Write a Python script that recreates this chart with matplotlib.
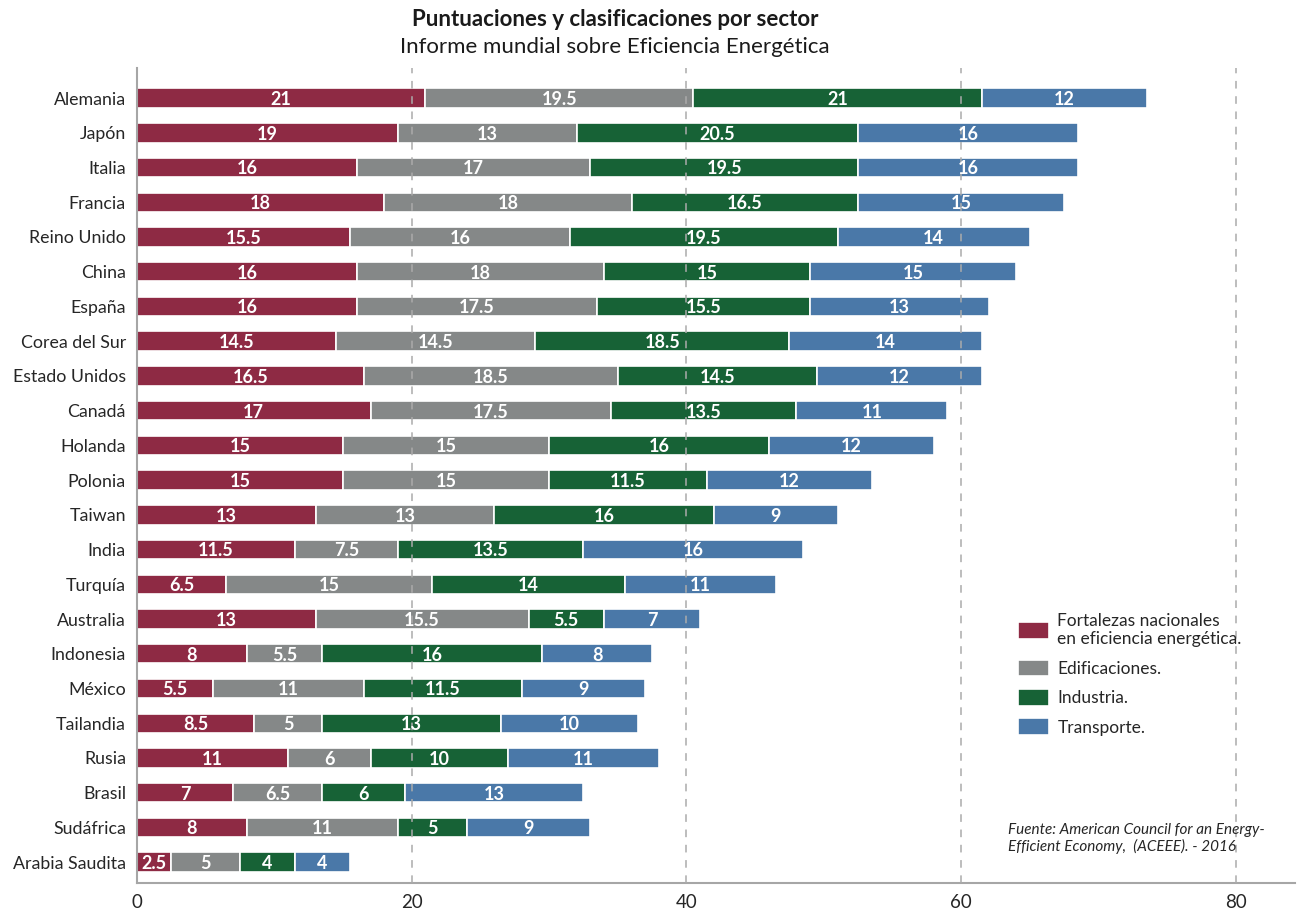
import matplotlib

matplotlib.use("Agg")
import matplotlib.pyplot as plt
import numpy as np

plt.rcParams["font.family"] = ["Lato", "DejaVu Sans"]

COUNTRIES = [
    "Alemania", "Japón", "Italia", "Francia", "Reino Unido", "China", "España",
    "Corea del Sur", "Estado Unidos", "Canadá", "Holanda", "Polonia", "Taiwan",
    "India", "Turquía", "Australia", "Indonesia", "México", "Tailandia", "Rusia",
    "Brasil", "Sudáfrica", "Arabia Saudita",
]
FORTALEZAS = [21, 19, 16, 18, 15.5, 16, 16, 14.5, 16.5, 17, 15, 15, 13, 11.5, 6.5, 13, 8, 5.5, 8.5, 11, 7, 8, 2.5]
EDIFICACIONES = [19.5, 13, 17, 18, 16, 18, 17.5, 14.5, 18.5, 17.5, 15, 15, 13, 7.5, 15, 15.5, 5.5, 11, 5, 6, 6.5, 11, 5]
INDUSTRIA = [21, 20.5, 19.5, 16.5, 19.5, 15, 15.5, 18.5, 14.5, 13.5, 16, 11.5, 16, 13.5, 14, 5.5, 16, 11.5, 13, 10, 6, 5, 4]
TRANSPORTE = [12, 16, 16, 15, 14, 15, 13, 14, 12, 11, 12, 12, 9, 16, 11, 7, 8, 9, 10, 11, 13, 9, 4]

SERIES = [
    ("Fortalezas nacionales\nen eficiencia energética.", FORTALEZAS, "#8e2a44"),
    ("Edificaciones.", EDIFICACIONES, "#858888"),
    ("Industria.", INDUSTRIA, "#176236"),
    ("Transporte.", TRANSPORTE, "#4a78a8"),
]
X_TICKS = [0, 20, 40, 60, 80]

fig = plt.figure(figsize=(13.14, 9.09), dpi=100)
ax = fig.add_axes([0.1043, 0.0286, 0.8812, 0.8964])

y = np.arange(len(COUNTRIES))
left = np.zeros(len(COUNTRIES))
handles = []
for label, vals, color in SERIES:
    vals = np.array(vals, dtype=float)
    bars = ax.barh(y, vals, left=left, height=0.56, color=color,
                   edgecolor="white", linewidth=1.2, label=label, zorder=2)
    handles.append(bars)
    for yi, l, v in zip(y, left, vals):
        ax.text(l + v / 2, yi + 0.04, f"{v:g}", ha="center", va="center",
                color="white", fontsize=13, fontweight="bold", zorder=4)
    left += vals

ax.set_ylim(len(COUNTRIES) - 0.4, -0.86)
ax.set_xlim(0, 84.3)
ax.set_yticks(y)
ax.set_yticklabels(COUNTRIES, fontsize=12.8, color="#262626")
ax.set_xticks(X_TICKS)
ax.set_xticklabels([str(t) for t in X_TICKS], fontsize=13.5, color="#262626")
ax.tick_params(axis="both", length=0, pad=8)

for t in X_TICKS[1:]:
    ax.axvline(t, color="#ababab", linestyle=(0, (5, 5)), linewidth=1.1, zorder=3)

for side in ("top", "right"):
    ax.spines[side].set_visible(False)
for side in ("left", "bottom"):
    ax.spines[side].set_color("#a6a6a6")
    ax.spines[side].set_linewidth(1.5)

fig.text(0.468, 0.979, "Puntuaciones y clasificaciones por sector", ha="center",
         va="center", fontsize=16, fontweight="bold", color="#1a1a1a")
fig.text(0.468, 0.948, "Informe mundial sobre Eficiencia Energética", ha="center",
         va="center", fontsize=16, color="#1a1a1a")

fig.legend(handles=handles, labels=[s[0] for s in SERIES], loc="upper left",
           bbox_to_anchor=(0.763, 0.343), frameon=False, fontsize=12.5,
           handlelength=1.75, handleheight=1.1, handletextpad=0.5,
           labelspacing=0.7, labelcolor="#262626")

fig.text(0.767, 0.078, "Fuente: American Council for an Energy-\nEfficient Economy,  (ACEEE). - 2016",
         ha="left", va="center", fontsize=11, style="italic", color="#262626",
         linespacing=1.15)

fig.savefig("out.png", dpi=100)
